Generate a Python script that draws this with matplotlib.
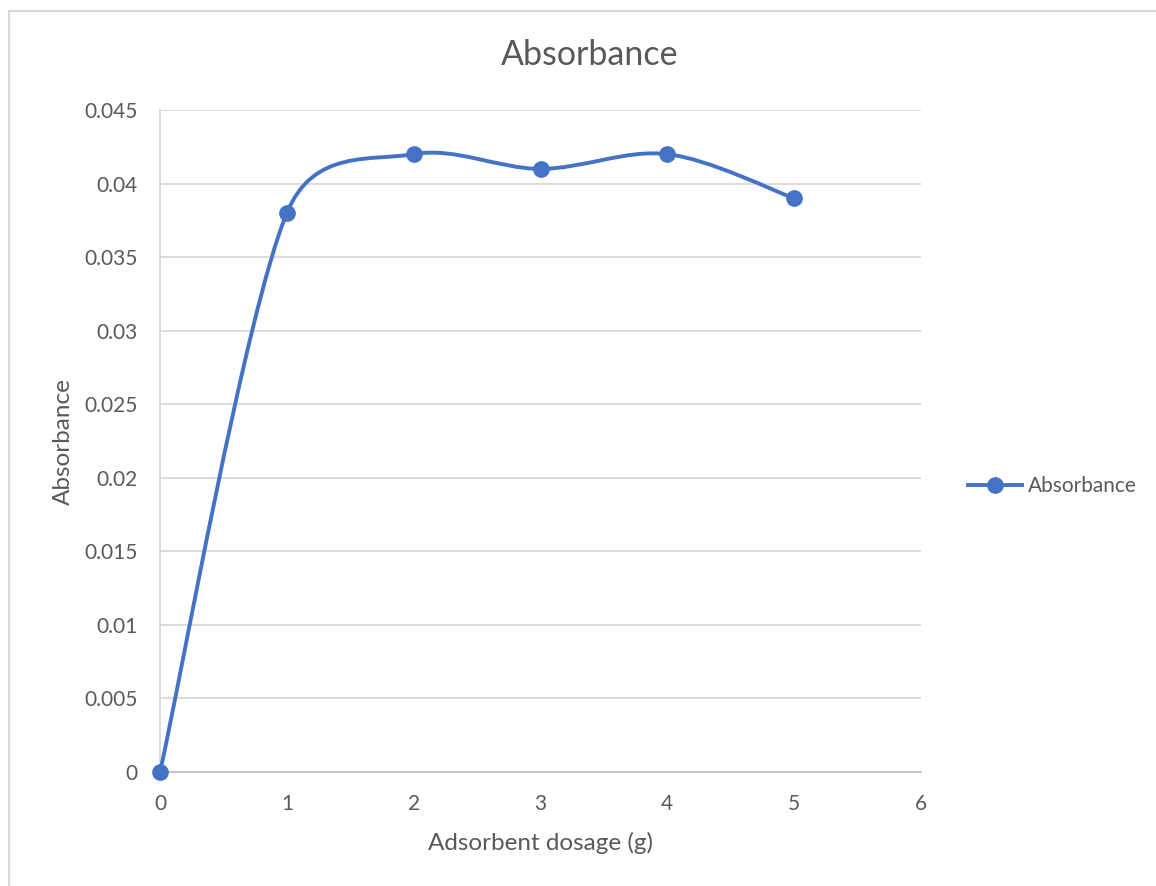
import numpy as np
import matplotlib.pyplot as plt
from matplotlib.path import Path
from matplotlib.patches import PathPatch
from matplotlib.lines import Line2D

plt.rcParams['font.family'] = ['Lato', 'DejaVu Sans']

dosage = [0, 1, 2, 3, 4, 5]
absorbance = [0, 0.038, 0.042, 0.041, 0.042, 0.039]
series_name = "Absorbance"

blue = "#4472c4"
txt = "#595959"


def smooth_path(ax, xs, ys, cap=0.5):
    # excel-like smoothing (catmull-rom -> bezier), handles capped so
    # short segments don't overshoot; done in pixel space
    pts = ax.transData.transform(np.column_stack([xs, ys]))
    n = len(pts)
    verts = [pts[0]]
    codes = [Path.MOVETO]
    for i in range(n - 1):
        p1, p2 = pts[i], pts[i + 1]
        seg = np.hypot(*(p2 - p1))
        d1 = (p2 - (pts[i - 1] if i > 0 else p1)) / 6
        d2 = ((pts[i + 2] if i + 2 < n else p2) - p1) / 6
        l1, l2 = np.hypot(*d1), np.hypot(*d2)
        if l1 > cap * seg:
            d1 = d1 * cap * seg / l1
        if l2 > cap * seg:
            d2 = d2 * cap * seg / l2
        verts += [p1 + d1, p2 - d2, p2]
        codes += [Path.CURVE4] * 3
    verts = ax.transData.inverted().transform(np.array(verts))
    return Path(verts, codes)


fig = plt.figure(figsize=(11.56, 8.86), dpi=100)
# chart area border, only top and left show in the crop
fig.add_artist(Line2D([9 / 1156, 9 / 1156], [0, 1 - 11 / 886],
                      transform=fig.transFigure, color="#d9d9d9", linewidth=1.5))
fig.add_artist(Line2D([9 / 1156, 1], [1 - 11 / 886, 1 - 11 / 886],
                      transform=fig.transFigure, color="#d9d9d9", linewidth=1.5))

ax = fig.add_axes([160 / 1156, 1 - 772 / 886, 761 / 1156, 662 / 886])
ax.set_xlim(0, 6)
ax.set_ylim(0, 0.045)
ax.set_xticks(range(0, 7))
ax.set_yticks(np.arange(0, 0.0451, 0.005))
ax.set_yticklabels(["0", "0.005", "0.01", "0.015", "0.02", "0.025", "0.03",
                    "0.035", "0.04", "0.045"])
ax.grid(axis="y", color="#d9d9d9", linewidth=1.3)
ax.set_axisbelow(True)
for s in ["top", "right"]:
    ax.spines[s].set_visible(False)
ax.spines["left"].set_color("#d9d9d9")
ax.spines["left"].set_linewidth(1.3)
ax.spines["bottom"].set_color("#bfbfbf")
ax.spines["bottom"].set_linewidth(1.3)
ax.tick_params(length=0, labelsize=15, colors=txt)
ax.tick_params(axis="x", pad=16)
ax.tick_params(axis="y", pad=16)

ax.add_patch(PathPatch(smooth_path(ax, dosage, absorbance), facecolor="none",
                       edgecolor=blue, linewidth=2.8, clip_on=False, zorder=3))
ax.plot(dosage, absorbance, linestyle="none", marker="o", markersize=11,
        color=blue, clip_on=False, zorder=4)

fig.text(590 / 1156, 1 - 55 / 886, "Absorbance", fontsize=24.5, color=txt,
         ha="center", va="center")
fig.text(541 / 1156, 1 - 843 / 886, "Adsorbent dosage (g)", fontsize=17.5,
         color=txt, ha="center", va="center")
fig.text(63 / 1156, 1 - 442 / 886, "Absorbance", fontsize=17.5, color=txt,
         ha="center", va="center", rotation=90)

handle = Line2D([], [], color=blue, linewidth=2.8, marker="o", markersize=11)
fig.legend([handle], [series_name], loc="center left",
           bbox_to_anchor=(968 / 1156, 1 - 486 / 886), frameon=False,
           borderpad=0, borderaxespad=0, fontsize=15, labelcolor=txt,
           handlelength=2.6, handletextpad=0.3)

fig.savefig("out.png", dpi=100)
